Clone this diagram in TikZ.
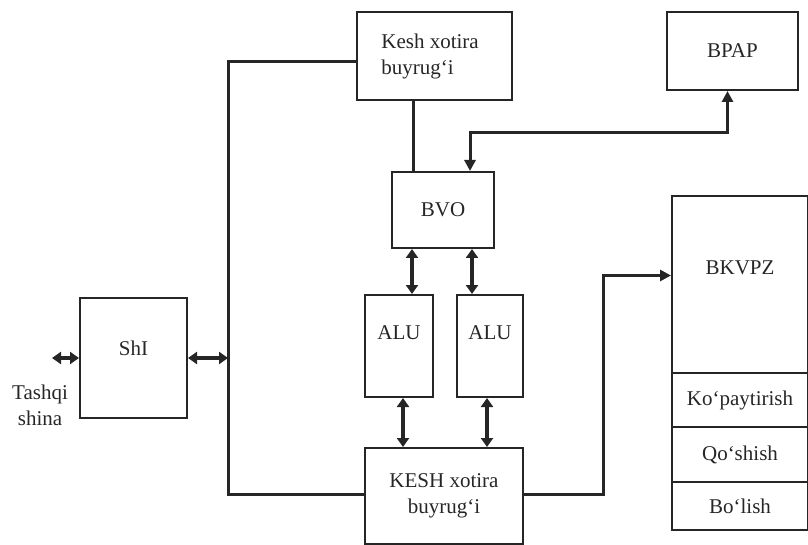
\documentclass[tikz,border=0pt]{standalone}
\usepackage{fontspec}
\setmainfont{Liberation Serif}
\usetikzlibrary{arrows.meta,calc}
\begin{document}
\begin{tikzpicture}[x=1pt,y=-1pt,
  box/.style={draw=black!85,line width=2pt,inner sep=0pt,font=\fontsize{21}{26}\selectfont,align=center,text=black!85},
  lbl/.style={inner sep=0pt,font=\fontsize{21}{26}\selectfont,align=center,text=black!85},
  conn/.style={draw=black!85,line width=3pt},
  tip/.style={-{Triangle[length=11pt,width=11pt]}},
  dtip/.style={line width=3.5pt,{Triangle[length=9pt,width=12pt]}-{Triangle[length=9pt,width=12pt]}}]
\useasboundingbox (0,0) rectangle (808,545);
% boxes
\node[box,minimum width=155pt,minimum height=88pt,align=left] (kesh) at (434.5,56) {Kesh xotira\\buyrug‘i\hspace*{34pt}};
\node[box,minimum width=131pt,minimum height=78pt] (bpap) at (732.5,51) {BPAP};
\node[box,minimum width=102pt,minimum height=76pt] (bvo) at (443,210) {BVO};
\node[box,minimum width=68pt,minimum height=102pt] (alua) at (399,346) {};
\node[lbl] (aluat) at (399,333) {ALU};
\node[box,minimum width=66pt,minimum height=102pt] (alub) at (490,346) {};
\node[lbl] (alubt) at (490,333) {ALU};
\node[box,minimum width=158pt,minimum height=96pt] (kesh2) at (444,496) {KESH xotira\\buyrug‘i};
\node[box,minimum width=107pt,minimum height=120pt] (shi) at (133.5,358) {};
\node[lbl] (shit) at (133.5,348) {ShI};
\node[lbl] (tash) at (40,405) {Tashqi\\shina};
\node[box,minimum width=136pt,minimum height=177pt] (bkvpz) at (740,284.5) {};
\node[lbl] (bkvpzt) at (740,268) {BKVPZ};
\node[box,minimum width=136pt,minimum height=54pt] (kop) at (740,400) {Ko‘paytirish};
\node[box,minimum width=136pt,minimum height=55pt] (qos) at (740,454.5) {Qo‘shish};
\node[box,minimum width=136pt,minimum height=48pt] (bol) at (740,506) {Bo‘lish};
% coordinates
\coordinate (bustop) at (228,62);
\coordinate (busbot) at (228,494);
\coordinate (ext) at (52,358);
\coordinate (hbp) at (0,133);
\coordinate (vk) at (603,0);
% connectors
\draw[conn] (kesh.west |- bustop) -- (bustop) -- (busbot) -- (busbot -| kesh2.west);
\draw[conn,dtip] (shi.east) -- (shi.east -| bustop);
\draw[conn,dtip] (ext) -- (shi.west |- ext);
\draw[conn] ([xshift=-21.5pt]kesh.south) -- ([xshift=-21.5pt]kesh.south |- bvo.north);
\draw[conn,{Triangle[length=11pt,width=11pt]}-{Triangle[length=11pt,width=11pt]}] ([xshift=-5pt]bpap.south) -- ([xshift=-5pt]bpap.south |- hbp) -- ([xshift=27pt]bvo.north |- hbp) -- ([xshift=27pt]bvo.north);
\draw[conn,dtip] ([xshift=-31pt]bvo.south) -- ([xshift=-31pt]bvo.south |- alua.north);
\draw[conn,dtip] ([xshift=29pt]bvo.south) -- ([xshift=29pt]bvo.south |- alub.north);
\draw[conn,dtip] ([xshift=4pt]alua.south) -- ([xshift=4pt]alua.south |- kesh2.north);
\draw[conn,dtip] ([xshift=-3pt]alub.south) -- ([xshift=-3pt]alub.south |- kesh2.north);
\draw[conn,tip] ([yshift=2pt]kesh2.east) -- ([yshift=2pt]kesh2.east -| vk) |- ([yshift=9pt]bkvpz.west);
\end{tikzpicture}
\end{document}
